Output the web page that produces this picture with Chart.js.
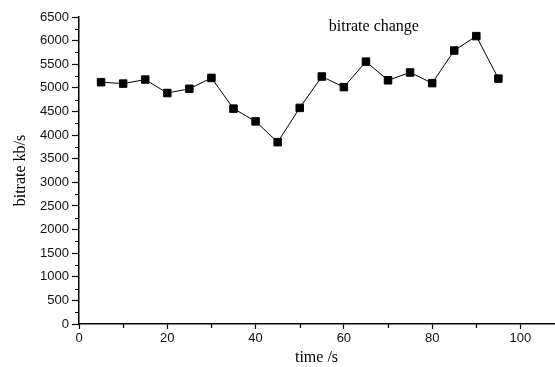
<!DOCTYPE html>
<html>
<head>
<meta charset="utf-8">
<script src="https://cdn.jsdelivr.net/npm/chart.js@4/dist/chart.umd.min.js"></script>
<style>
  body { margin: 0; background: #fff; }
  #wrap { width: 555px; height: 367px; }
</style>
</head>
<body>
<div id="wrap"><canvas id="grafica_bitrate" width="555" height="367"></canvas></div>
<script>
// datos
const tiempos = [5, 10, 15, 20, 25, 30, 35, 40, 45, 50, 55, 60, 65, 70, 75, 80, 85, 90, 95];
const bitrates = [5120, 5090, 5175, 4890, 4980, 5210, 4560, 4290, 3850, 4575, 5240, 5015, 5555, 5160, 5325, 5100, 5790, 6095, 5195];
const ticksX = [0, 20, 40, 60, 80, 100];
const ticksXMenores = [10, 30, 50, 70, 90];
const ticksYMenores = [250, 750, 1250, 1750, 2250, 2750, 3250, 3750, 4250, 4750, 5250, 5750, 6250];
const titulo = "bitrate change";
const tituloX = "time /s";
const tituloY = "bitrate kb/s";

const fuenteSans = "'Liberation Sans', Arial, sans-serif";
const fuenteSerif = "'Liberation Serif', 'Times New Roman', serif";

// ticks menores y titulo interno
const extras = {
  id: 'extras',
  afterDraw(chart) {
    const ctx = chart.ctx;
    const x = chart.scales.x, y = chart.scales.y;
    ctx.save();
    ctx.strokeStyle = '#000';
    ctx.lineWidth = 1.2;
    ctx.beginPath();
    ticksYMenores.forEach(v => {
      const py = Math.round(y.getPixelForValue(v)) + 0.5;
      ctx.moveTo(x.left - 4, py);
      ctx.lineTo(x.left, py);
    });
    ticksXMenores.forEach(v => {
      const px = Math.round(x.getPixelForValue(v)) + 0.5;
      ctx.moveTo(px, y.bottom);
      ctx.lineTo(px, y.bottom + 4);
    });
    ctx.stroke();

    ctx.fillStyle = '#000';
    ctx.font = "16px " + fuenteSerif;
    ctx.textAlign = 'center';
    ctx.textBaseline = 'middle';
    ctx.fillText(titulo, x.getPixelForValue(66.8), y.getPixelForValue(6300));
    ctx.restore();
  }
};

const ctx = document.getElementById("grafica_bitrate").getContext("2d");
window.chartBitrate = new Chart(ctx, {
  type: 'line',
  data: {
    datasets: [{
      data: tiempos.map((t, i) => ({ x: t, y: bitrates[i] })),
      borderColor: '#000',
      borderWidth: 1,
      backgroundColor: '#000',
      pointStyle: 'rect',
      pointRadius: 5.3,
      pointBorderWidth: 1,
      pointBorderColor: '#000',
      pointBackgroundColor: '#000',
      tension: 0
    }]
  },
  options: {
    responsive: false,
    animation: false,
    events: [],
    layout: { autoPadding: false, padding: { top: 17, right: 1, left: 0, bottom: 0 } },
    scales: {
      x: {
        type: 'linear',
        min: 0,
        max: 107.6,
        afterBuildTicks: (scale) => { scale.ticks = ticksX.map(v => ({ value: v })); },
        afterFit: (scale) => { scale.height = 43; scale.paddingRight = 0; scale.paddingLeft = 0; },
        border: { display: true, color: '#000', width: 1.5 },
        grid: { drawOnChartArea: false, color: '#000', tickLength: 5, tickWidth: 1.2 },
        ticks: {
          color: '#111',
          font: { family: fuenteSans, size: 13 },
          padding: 2,
          maxRotation: 0,
          callback: (v) => String(v)
        },
        title: {
          display: true,
          text: tituloX,
          color: '#000',
          font: { family: fuenteSerif, size: 16 },
          padding: { top: 0, bottom: 0 }
        }
      },
      y: {
        min: 0,
        max: 6500,
        ticks: {
          stepSize: 500,
          color: '#111',
          font: { family: fuenteSans, size: 13 },
          padding: 3,
          callback: (v) => String(v)
        },
        afterFit: (scale) => { scale.width = 79; },
        border: { display: true, color: '#000', width: 1.5 },
        grid: { drawOnChartArea: false, color: '#000', tickLength: 7, tickWidth: 1.2 },
        title: {
          display: true,
          text: tituloY,
          color: '#000',
          font: { family: fuenteSerif, size: 16 },
          padding: { top: 11, bottom: 2 }
        }
      }
    },
    plugins: {
      legend: { display: false },
      tooltip: { enabled: false }
    }
  },
  plugins: [extras]
});
</script>
</body>
</html>
